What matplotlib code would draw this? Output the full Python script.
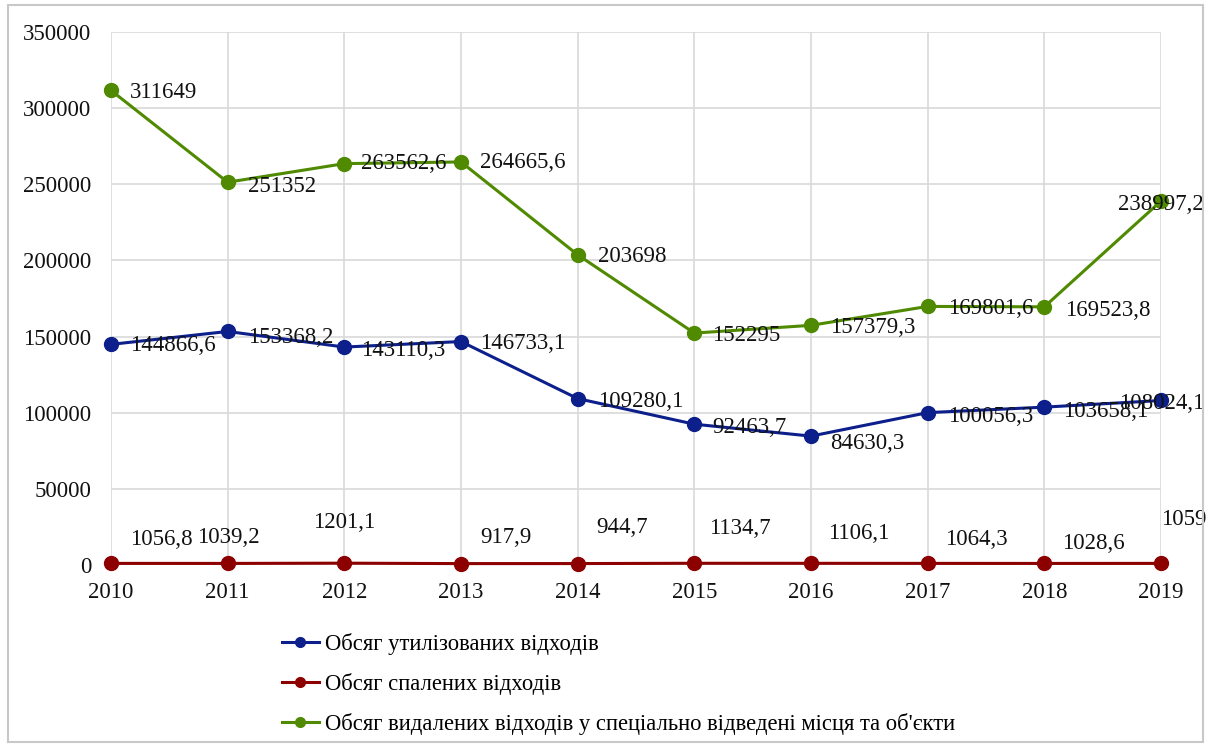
import matplotlib.pyplot as plt
from matplotlib.patches import Rectangle

plt.rcParams['font.family'] = ['Liberation Serif', 'DejaVu Serif']

years = [2010, 2011, 2012, 2013, 2014, 2015, 2016, 2017, 2018, 2019]
utilized = [144866.6, 153368.2, 143110.3, 146733.1, 109280.1, 92463.7, 84630.3, 100056.3, 103658.1, 108024.1]
burned = [1056.8, 1039.2, 1201.1, 917.9, 944.7, 1134.7, 1106.1, 1064.3, 1028.6, 1059]
removed = [311649, 251352, 263562.6, 264665.6, 203698, 152295, 157379.3, 169801.6, 169523.8, 238997.2]

names = ["Обсяг утилізованих відходів",
         "Обсяг спалених відходів",
         "Обсяг видалених відходів у спеціально відведені місця та об'єкти"]
colors = ["#0c1f8a", "#8c0000", "#4f8a00"]

# label offsets in pixels (dx, dy, horizontal alignment)
util_off = [(19, -1, 'left'), (20, -6, 'left'), (17, -3, 'left'), (19, -2, 'left'), (20, -3, 'left'),
            (18, -3, 'left'), (19, -7, 'left'), (20, -4, 'left'), (19, -4, 'left'), (1, -3, 'center')]
burn_off = [(19, 24, 'left'), (1, 26, 'center'), (0, 41, 'center'), (19, 26, 'left'), (19, 36, 'left'),
            (15, 35, 'left'), (17, 30, 'left'), (17, 24, 'left'), (18, 20, 'left'), (0, 44, 'left')]
rem_off = [(19, -2, 'left'), (20, -4, 'left'), (17, 0, 'left'), (19, -1, 'left'), (20, -2, 'left'),
           (18, -2, 'left'), (19, -2, 'left'), (20, -2, 'left'), (21, -4, 'left'), (0, -3, 'center')]

fig = plt.figure(figsize=(12.11, 7.46), dpi=100)
ax = fig.add_axes([111 / 1211, 1 - 565 / 746, 1050 / 1211, 533 / 746])

series = [utilized, burned, removed]
offsets = [util_off, burn_off, rem_off]
for vals, name, col, offs in zip(series, names, colors, offsets):
    ax.plot(years, vals, color=col, lw=2.2, marker='o', ms=10, label=name, clip_on=False, zorder=3)
    for x, v, (dx, dy, ha) in zip(years, vals, offs):
        txt = f"{v:.1f}".replace('.', ',') if v != int(v) else str(int(v))
        ax.annotate(txt, (x, v), xytext=(dx, dy), textcoords='offset pixels',
                    ha=ha, va='center', fontsize=16.5, color='#111111', zorder=4)

ax.set_xlim(2010, 2019)
ax.set_ylim(0, 350000)
ax.set_xticks(years)
ax.set_yticks(range(0, 350001, 50000))
ax.tick_params(length=0, labelsize=16.5, colors='#111111')
ax.tick_params(axis='y', pad=14)
ax.tick_params(axis='x', pad=12)
ax.grid(True, color='#d9d9d9', lw=1.2)
ax.set_axisbelow(True)
for s in ax.spines.values():
    s.set_visible(False)

fig.legend(loc='upper left', bbox_to_anchor=(262 / 1211, 1 - 613 / 746), frameon=False,
           fontsize=16.3, handlelength=1.6, handletextpad=0.3, labelspacing=0.78, markerscale=0.7)

fig.patches.append(Rectangle((8 / 1211, 4 / 746), 1195 / 1211, 737 / 746, transform=fig.transFigure,
                             fill=False, edgecolor='#c8c8c8', lw=1.5))

fig.savefig('out.png', dpi=100)
